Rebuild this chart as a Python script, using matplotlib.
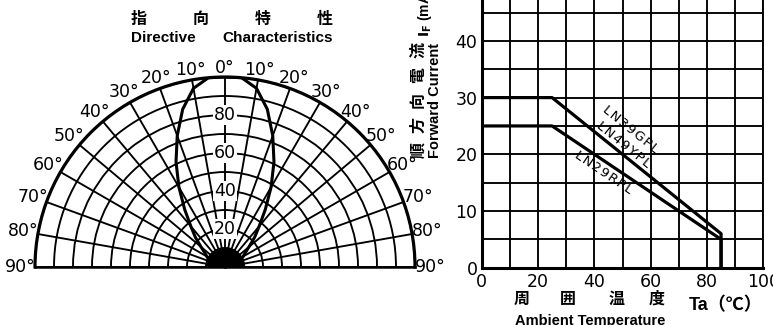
import numpy as np
import matplotlib
matplotlib.use("Agg")
import matplotlib.pyplot as plt

# ---------------- data ----------------
# Directive characteristics (relative intensity vs angle, symmetric)
angles_deg = [0, 5, 10, 15, 20, 25, 30, 35, 40, 45, 50, 55, 60, 65, 70, 75, 80, 85, 90]
intensity = [100, 100, 95.5, 86, 73.5, 61, 48.5, 37, 28, 22, 16.5, 13, 11, 9.5, 8.5, 8, 7.5, 7.5, 7.5]
radial_labels = [20, 40, 60, 80]
angle_ticks = list(range(-90, 91, 10))

# Forward current derating
temp_g = [0, 25, 85, 85]          # LN39GPL / LN49YPL
if_g = [30, 30, 6, 0]
temp_r = [0, 25, 85, 85]          # LN29RPL
if_r = [25, 25, 5, 0]
curve_names = ["LN39GPL", "LN49YPL", "LN29RPL"]
xticks = list(range(0, 101, 10))
xtick_labels = ["0", "", "20", "", "40", "", "60", "", "80", "", "100"]
yticks = list(range(0, 51, 5))
ytick_labels = ["0", "", "10", "", "20", "", "30", "", "40", "", ""]

W, H = 773, 325
NARROW = ["Liberation Sans Narrow", "DejaVu Sans"]
SANS = ["Liberation Sans", "Noto Sans CJK JP", "DejaVu Sans"]
CJK = ["Noto Sans CJK JP", "DejaVu Sans"]

fig = plt.figure(figsize=(W / 100, H / 100), dpi=100)
fig.patch.set_facecolor("white")


def fx(x):
    return x / W


def fy(y):
    return 1 - y / H


# ---------------- polar chart ----------------
cx, cy, R = 225, 267, 190
# a half-range polar axes draws its wedge at half the rect size, centred in it
bcx, bcy = cx, cy - R / 2
axp = fig.add_axes([fx(bcx - 2 * R), fy(bcy + R), 4 * R / W, 2 * R / H], projection="polar")
axp.set_theta_zero_location("N")
axp.set_theta_direction(-1)
axp.set_thetamin(-90)
axp.set_thetamax(90)
axp.set_ylim(0, 100)
axp.set_thetagrids(angle_ticks, labels=[""] * len(angle_ticks))
axp.set_rgrids(np.arange(10, 100, 10), labels=[""] * 9)
axp.grid(True, color="black", lw=1.35)
axp.spines["polar"].set_linewidth(2.3)
axp.spines["start"].set_linewidth(1.8)
axp.spines["end"].set_linewidth(1.8)
axp.spines["inner"].set_visible(False)
axp.tick_params(length=0)
axp.patch.set_alpha(0)

# centre hub (dense convergence of rays)
hub = np.radians(np.linspace(-90, 90, 91))
axp.fill_between(hub, 0, 10, color="black", zorder=3)

# lobe
th = np.array(angles_deg, dtype=float)
r = np.array(intensity, dtype=float)
th_full = np.concatenate([-th[::-1], th[1:]])
r_full = np.concatenate([r[::-1], r[1:]])
axp.plot(np.radians(th_full), r_full, color="black", lw=2.2, zorder=4)

for a in angle_ticks:
    rr = 104.5 + 3.5 * abs(np.sin(np.radians(a)))
    axp.text(np.radians(a), rr, f"{abs(a)}°", ha="center", va="center",
             fontsize=12.5, family=NARROW, clip_on=False)
for v in radial_labels:
    axp.text(0, v, str(v), ha="center", va="center", fontsize=12.5, family=NARROW,
             zorder=5, bbox=dict(boxstyle="square,pad=0.05", fc="white", ec="none"))

# title
for ch, x in zip("指向特性", np.linspace(139, 325, 4)):
    fig.text(fx(x), fy(19), ch, ha="center", va="center", fontsize=11.5,
             family=CJK, fontweight="bold")
fig.text(fx(163.5), fy(38), "Directive", ha="center", va="center", fontsize=11,
         family=SANS, fontweight="bold")
fig.text(fx(278), fy(38), "Characteristics", ha="center", va="center", fontsize=11,
         family=SANS, fontweight="bold")

# ---------------- derating chart ----------------
x0, x1 = 481.7, 763.3
y0 = 267.7
unit_y = 5.67
axr = fig.add_axes([fx(x0), fy(y0), (x1 - x0) / W, 50 * unit_y / H])
axr.set_xlim(0, 100)
axr.set_ylim(0, 50)
axr.set_xticks(xticks, labels=xtick_labels)
axr.set_yticks(yticks, labels=ytick_labels)
axr.grid(True, color="black", lw=1.35)
axr.set_axisbelow(True)
for s in ["left", "bottom"]:
    axr.spines[s].set_linewidth(2.2)
for s in ["right", "top"]:
    axr.spines[s].set_linewidth(1.35)
axr.tick_params(length=0, labelsize=12.5, pad=4)
axr.tick_params(axis="y", pad=3)
for lab in axr.get_xticklabels() + axr.get_yticklabels():
    lab.set_family(NARROW)

axr.plot(temp_g, if_g, color="black", lw=2.3, zorder=3)
axr.plot(temp_r, if_r, color="black", lw=2.3, zorder=3)

for txt, (tx, ty), rot in zip(curve_names,
                              [(52.9, 24.4), (50.3, 21.6), (43.2, 16.8)],
                              [-39, -39, -34]):
    axr.text(tx, ty, "\u200a".join(txt), rotation=rot, rotation_mode="anchor",
             ha="center", va="center", fontsize=9.5, family=["DejaVu Sans"], zorder=4)

# y-axis label
for ch, y in zip("順方向電流", np.linspace(150, 50, 5)):
    fig.text(fx(418), fy(y), ch, rotation=90, ha="center", va="center",
             fontsize=11.5, family=CJK, fontweight="bold")
fig.text(fx(435), fy(100), "Forward Current", rotation=90, ha="center", va="center",
         fontsize=10.5, family=SANS, fontweight="bold")
fig.text(fx(425), fy(37), r"$\mathbf{I_F}$ (mA)", rotation=90, ha="center", va="bottom",
         fontsize=10, family=SANS, fontweight="bold")

# x-axis label
for ch, x in zip("周囲温度", [521.7, 568, 616.7, 656.7]):
    fig.text(fx(x), fy(299), ch, ha="center", va="center", fontsize=11.5,
             family=CJK, fontweight="bold")
fig.text(fx(590), fy(321), "Ambient Temperature", ha="center", va="center",
         fontsize=10.5, family=SANS, fontweight="bold")
fig.text(fx(726), fy(306), "Ta（℃）", ha="center", va="center", fontsize=13,
         family=SANS, fontweight="bold")

fig.savefig("out.png", dpi=100, facecolor="white")
